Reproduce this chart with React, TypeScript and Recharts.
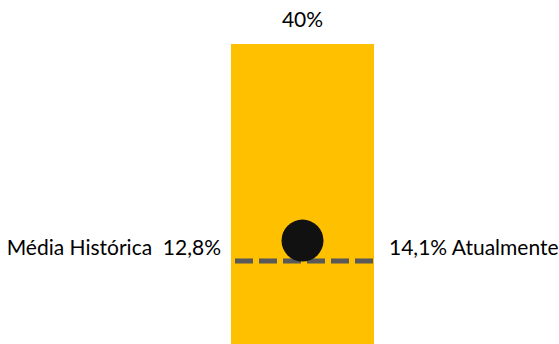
import React from 'react';
import { ComposedChart, Bar, XAxis, YAxis, ReferenceLine, ReferenceDot, LabelList, Label } from 'recharts';

const categories = ['Atual'];
const barValues = [40];
const barLabels = ['40%'];
const historicalMean = [12.8];
const currentValue = [14.1];
const meanLabels = ['Média Histórica  12,8%'];
const currentLabels = ['14,1% Atualmente'];

const data = categories.map((c, i) => ({ name: c, value: barValues[i], label: barLabels[i] }));

const FONT = 'Lato, "Open Sans", sans-serif';

const DotShape = (props: any) => {
  const { cx, cy, r } = props;
  return <circle cx={cx} cy={cy - 10} r={r} fill="#111111" />;
};

export default function App() {
  return (
    <div style={{ position: 'absolute', left: 0, top: 0, width: 559, height: 344, overflow: 'hidden', background: '#fff' }}>
      <ComposedChart
        width={559}
        height={380}
        data={data}
        margin={{ top: 44, right: 185, bottom: 17, left: 231 }}
        barCategoryGap={0}
      >
        <XAxis dataKey="name" hide />
        <YAxis domain={[0, 40]} hide />
        <Bar dataKey="value" fill="#FFC000" isAnimationActive={false}>
          <LabelList dataKey="label" position="top" offset={17} fill="#000" fontSize={21} fontFamily={FONT} />
        </Bar>
        <ReferenceLine
          y={historicalMean[0]}
          stroke="#595959"
          strokeWidth={5}
          strokeDasharray="18 6"
          strokeDashoffset={20}
        >
          <Label value={meanLabels[0].replace('  ', '\u00A0\u00A0')} position="left" offset={10} dy={-13} fill="#000" fontSize={21} fontFamily={FONT} />
          <Label value={currentLabels[0]} position="right" offset={15} dy={-13} fill="#000" fontSize={21} fontFamily={FONT} />
        </ReferenceLine>
        <ReferenceDot x={categories[0]} y={currentValue[0]} r={21} shape={DotShape} />
      </ComposedChart>
    </div>
  );
}
